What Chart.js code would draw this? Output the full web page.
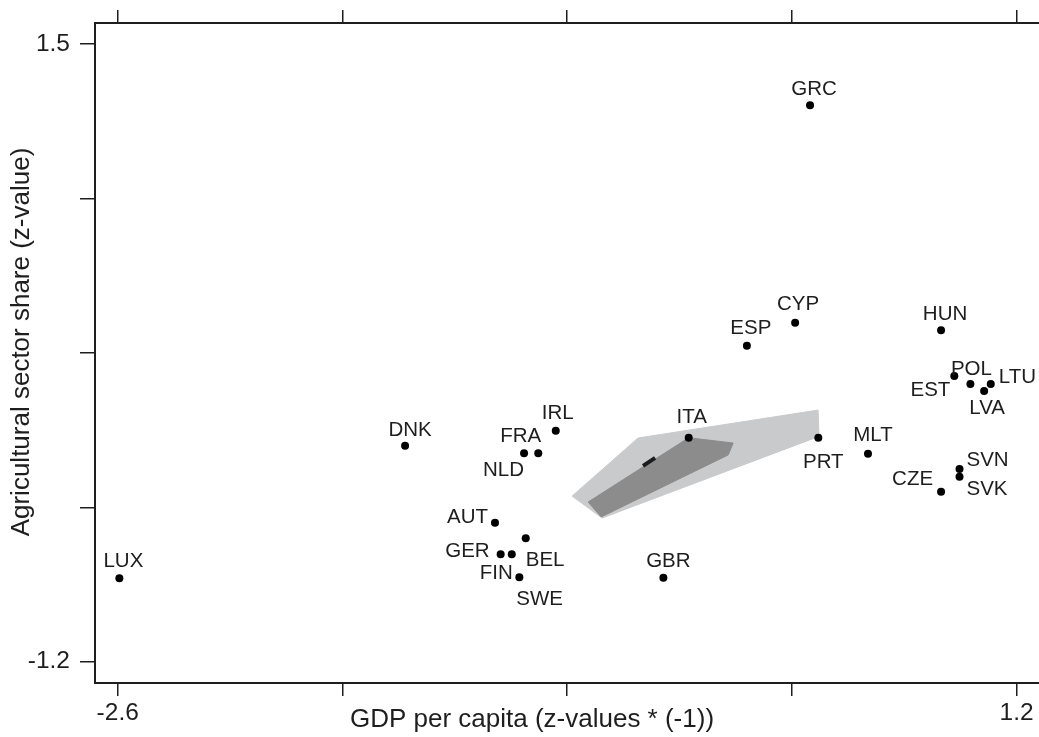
<!DOCTYPE html>
<html>
<head>
<meta charset="utf-8">
<script src="https://cdn.jsdelivr.net/npm/chart.js@4/dist/chart.umd.min.js"></script>
<style>
  html, body { margin: 0; padding: 0; background: #fff; overflow: hidden; }
  #wrap { width: 1039px; height: 737px; }
</style>
</head>
<body>
<div id="wrap"><canvas id="myChart"></canvas></div>
<script>
// country codes
var countries = ['LUX','DNK','IRL','NLD','FRA','AUT','BEL','GER','FIN','SWE','GBR','ITA','ESP','CYP','GRC','PRT','MLT','HUN','EST','POL','LTU','LVA','SVN','SVK','CZE'];
// GDP per capita (z-values * -1)
var gdpZ = [-2.593,-1.385,-0.748,-0.882,-0.822,-1.005,-0.875,-0.981,-0.934,-0.902,-0.293,-0.186,0.060,0.264,0.327,0.362,0.572,0.881,0.937,1.005,1.091,1.063,0.959,0.959,0.881];
// agricultural sector share (z-value)
var agriZ = [-0.835,-0.256,-0.190,-0.289,-0.289,-0.592,-0.660,-0.730,-0.730,-0.831,-0.833,-0.221,0.181,0.282,1.233,-0.221,-0.291,0.249,0.049,0.014,0.014,-0.017,-0.358,-0.391,-0.457];

// hull areas (outer light, inner dark, core)
var outerHullX = [-0.679,-0.400,0.361,0.365,-0.552];
var outerHullY = [-0.476,-0.222,-0.100,-0.215,-0.572];
var innerHullX = [-0.186,0.002,-0.019,-0.556,-0.611];
var innerHullY = [-0.221,-0.244,-0.296,-0.567,-0.502];
var coreX = [-0.379,-0.328];
var coreY = [-0.344,-0.309];

// ticks
var xTicks = [-2.6,-1.65,-0.7,0.25,1.2];
var xTickText = ['-2.6','','','','1.2'];
var yTicks = [1.5,0.825,0.15,-0.525,-1.2];
var yTickText = ['1.5','','','','-1.2'];

var xTitle = 'GDP per capita (z-values * (-1))';
var yTitle = 'Agricultural sector share (z-value)';

// where each marker label sits: align, dx, dy (pixels)
var labelPos = {
  LUX:['c',4,-17], DNK:['c',5,-15], IRL:['c',2,-17], NLD:['r',0,17], FRA:['r',3,-17],
  AUT:['r',-7,-5], BEL:['l',0,22], GER:['r',-11,-3], FIN:['r',1,19], SWE:['l',-3,22],
  GBR:['c',5,-16], ITA:['c',3,-20], ESP:['c',4,-17], CYP:['c',3,-18], GRC:['c',4,-16],
  PRT:['c',5,25], MLT:['c',5,-18], HUN:['c',4,-16], EST:['r',-4,14], POL:['c',1,-15],
  LTU:['l',8,-7], LVA:['c',3,17], SVN:['l',7,-9], SVK:['l',7,13], CZE:['r',-8,-12]
};

var ink = '#1e1e1e';
var fontFam = '"Liberation Sans", Arial, sans-serif';

function pts(xs, ys, close) {
  var a = xs.map(function (x, i) { return {x: x, y: ys[i]}; });
  if (close) a.push({x: xs[0], y: ys[0]});
  return a;
}

function noPad(s) { s.paddingLeft = 0; s.paddingRight = 0; s.paddingTop = 0; s.paddingBottom = 0; }

// labels next to the markers + axis titles
const countryLabels = {
  id: 'countryLabels',
  afterDatasetsDraw(chart) {
    const ctx = chart.ctx;
    const sx = chart.scales.x, sy = chart.scales.y;
    ctx.save();
    ctx.font = '20.5px ' + fontFam;
    ctx.fillStyle = ink;
    ctx.textBaseline = 'middle';
    countries.forEach(function (c, i) {
      const p = labelPos[c];
      ctx.textAlign = {c: 'center', l: 'left', r: 'right'}[p[0]];
      ctx.fillText(c, sx.getPixelForValue(gdpZ[i]) + p[1], sy.getPixelForValue(agriZ[i]) + p[2]);
    });
    ctx.restore();
  },
  afterDraw(chart) {
    const ctx = chart.ctx;
    const area = chart.chartArea;
    ctx.save();
    ctx.font = '26px ' + fontFam;
    ctx.fillStyle = ink;
    ctx.textAlign = 'center';
    ctx.textBaseline = 'middle';
    // x title, a little left of the plot centre
    ctx.fillText(xTitle, (area.left + area.right) / 2 - 35, chart.height - 17);
    // y title, rotated
    ctx.translate(22, (area.top + area.bottom) / 2 - 11);
    ctx.rotate(-Math.PI / 2);
    ctx.fillText(yTitle, 0, 0);
    ctx.restore();
  }
};

const axisFont = {family: fontFam, size: 24.5};

const config = {
  type: 'scatter',
  data: {
    datasets: [
      {
        label: 'countries',
        data: pts(gdpZ, agriZ, false),
        pointRadius: 4,
        backgroundColor: '#000',
        borderWidth: 0,
        order: 0
      },
      {
        label: 'core',
        data: pts(coreX, coreY, false),
        showLine: true,
        pointRadius: 0,
        borderColor: '#1c1c1c',
        borderWidth: 4,
        borderCapStyle: 'butt',
        order: 1
      },
      {
        label: 'inner',
        data: pts(innerHullX, innerHullY, true),
        showLine: true,
        pointRadius: 0,
        borderColor: '#8c8c8c',
        borderWidth: 1,
        backgroundColor: '#8c8c8c',
        fill: 'shape',
        order: 2
      },
      {
        label: 'outer',
        data: pts(outerHullX, outerHullY, true),
        showLine: true,
        pointRadius: 0,
        borderColor: '#c9cacc',
        borderWidth: 1,
        backgroundColor: '#c9cacc',
        fill: 'shape',
        order: 3
      }
    ]
  },
  options: {
    responsive: true,
    maintainAspectRatio: false,
    animation: false,
    events: [],
    layout: {padding: 0, autoPadding: false},
    plugins: {legend: {display: false}, tooltip: {enabled: false}},
    scales: {
      x: {
        type: 'linear', position: 'bottom', min: -2.696, max: 1.295,
        afterBuildTicks: function (s) { s.ticks = xTicks.map(function (v) { return {value: v}; }); },
        afterFit: function (s) { s.height = 54; noPad(s); },
        grid: {drawOnChartArea: false, drawTicks: true, tickLength: 13, color: ink, lineWidth: 1.5},
        border: {display: true, color: ink, width: 2},
        ticks: {callback: function (v, i) { return xTickText[i]; }, font: axisFont, color: ink, padding: 3, maxRotation: 0, autoSkip: false}
      },
      x2: {
        type: 'linear', position: 'top', min: -2.696, max: 1.295,
        afterBuildTicks: function (s) { s.ticks = xTicks.map(function (v) { return {value: v}; }); },
        afterFit: function (s) { s.height = 23; noPad(s); },
        grid: {drawOnChartArea: false, drawTicks: true, tickLength: 13, color: ink, lineWidth: 1.5},
        border: {display: true, color: ink, width: 2},
        ticks: {callback: function () { return ''; }, autoSkip: false}
      },
      y: {
        type: 'linear', position: 'left', min: -1.293, max: 1.592,
        afterBuildTicks: function (s) { s.ticks = yTicks.map(function (v) { return {value: v}; }); },
        afterFit: function (s) { s.width = 95; noPad(s); },
        grid: {drawOnChartArea: false, drawTicks: true, tickLength: 15, color: ink, lineWidth: 1.5},
        border: {display: true, color: ink, width: 2},
        ticks: {callback: function (v, i) { return yTickText[i]; }, font: axisFont, color: ink, padding: 10, autoSkip: false}
      }
    }
  },
  plugins: [countryLabels]
};

const ctx = document.getElementById('myChart').getContext('2d');
const myChart = new Chart(ctx, config);
</script>
</body>
</html>
